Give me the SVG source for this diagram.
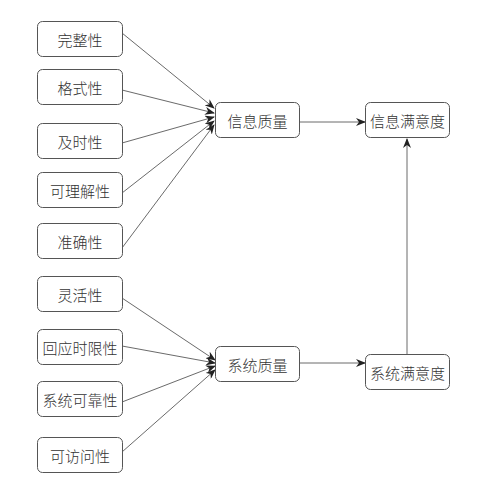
<svg xmlns="http://www.w3.org/2000/svg" width="478" height="486" viewBox="0 0 478 486">
<defs>
<marker id="ah" markerWidth="10" markerHeight="8" refX="9" refY="4" orient="auto" markerUnits="userSpaceOnUse">
<path d="M0,0 L10,4 L0,8 L3,4 Z" fill="#222"/>
</marker>
</defs>
<style>
.box{fill:#fff;stroke:#555;stroke-width:1}
.t{font-family:"Noto Sans CJK SC","Noto Sans",sans-serif;font-size:15px;fill:#333;text-anchor:middle;dominant-baseline:central;font-weight:300}
.c{fill:none;stroke:#444;stroke-width:0.8;marker-end:url(#ah)}
</style>
<rect width="478" height="486" fill="#fff"/>
<g id="connectors">
<line class="c" x1="122" y1="33" x2="214" y2="108"/>
<line class="c" x1="122" y1="90" x2="214" y2="113"/>
<line class="c" x1="122" y1="143" x2="214" y2="117"/>
<line class="c" x1="122" y1="193" x2="214" y2="121"/>
<line class="c" x1="122" y1="248" x2="214" y2="125"/>
<line class="c" x1="122" y1="298" x2="215" y2="360"/>
<line class="c" x1="122" y1="346" x2="215" y2="363"/>
<line class="c" x1="122" y1="402" x2="215" y2="366"/>
<line class="c" x1="122" y1="452" x2="215" y2="370"/>
<line class="c" x1="299" y1="122" x2="365" y2="122"/>
<line class="c" x1="299" y1="363" x2="365" y2="363"/>
<line class="c" x1="407" y1="354" x2="407" y2="139"/>
</g>
<g id="n1"><rect class="box" x="37.5" y="21.5" width="85" height="35" rx="5"/><text class="t" x="80" y="39">完整性</text></g>
<g id="n2"><rect class="box" x="37.5" y="69.5" width="85" height="35" rx="5"/><text class="t" x="80" y="87">格式性</text></g>
<g id="n3"><rect class="box" x="37.5" y="123.5" width="85" height="35" rx="5"/><text class="t" x="80" y="141">及时性</text></g>
<g id="n4"><rect class="box" x="37.5" y="172.5" width="85" height="35" rx="5"/><text class="t" x="80" y="190">可理解性</text></g>
<g id="n5"><rect class="box" x="37.5" y="223.5" width="85" height="35" rx="5"/><text class="t" x="80" y="241">准确性</text></g>
<g id="n6"><rect class="box" x="37.5" y="276.5" width="85" height="35" rx="5"/><text class="t" x="80" y="294">灵活性</text></g>
<g id="n7"><rect class="box" x="37.5" y="329.5" width="85" height="35" rx="5"/><text class="t" x="80" y="347">回应时限性</text></g>
<g id="n8"><rect class="box" x="37.5" y="381.5" width="85" height="35" rx="5"/><text class="t" x="80" y="399">系统可靠性</text></g>
<g id="n9"><rect class="box" x="37.5" y="437.5" width="85" height="35" rx="5"/><text class="t" x="80" y="455">可访问性</text></g>
<g id="n10"><rect class="box" x="215.5" y="102.5" width="84" height="35" rx="5"/><text class="t" x="257.5" y="120">信息质量</text></g>
<g id="n11"><rect class="box" x="365.5" y="102.5" width="84" height="35" rx="5"/><text class="t" x="407.5" y="120">信息满意度</text></g>
<g id="n12"><rect class="box" x="215.5" y="346.5" width="84" height="35" rx="5"/><text class="t" x="257.5" y="364">系统质量</text></g>
<g id="n13"><rect class="box" x="365.5" y="354.5" width="84" height="35" rx="5"/><text class="t" x="407.5" y="372">系统满意度</text></g>
</svg>
